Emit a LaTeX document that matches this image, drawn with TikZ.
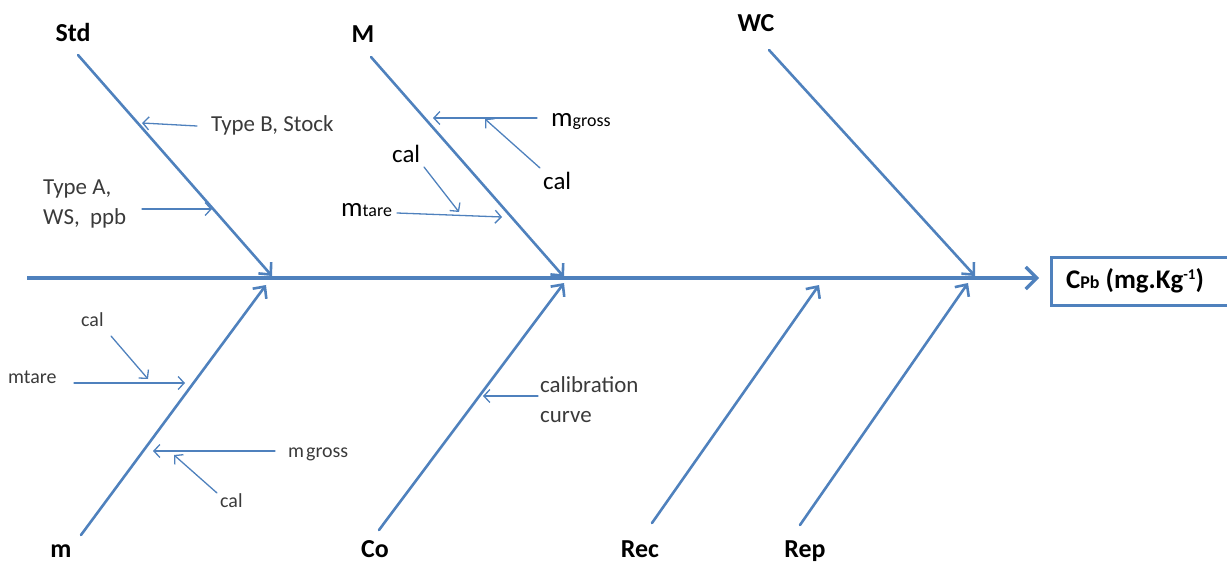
\documentclass[tikz,border=0pt]{standalone}
\usepackage{fontspec}
\setmainfont{Carlito}
\usetikzlibrary{arrows.meta}
\definecolor{fb}{HTML}{4F81BD}
\definecolor{tg}{HTML}{3A3A3A}
\newcommand{\bigf}{\fontsize{26}{30}\selectfont}
\newcommand{\grf}{\fontsize{20}{24}\selectfont}
\newcommand{\grbf}{\fontsize{23}{27}\selectfont}
\newcommand{\calf}{\fontsize{25}{30}\selectfont}
\newcommand{\subf}{\fontsize{18}{20}\selectfont}
\tikzset{
  branch/.style={draw=fb, line width=2.6bp, line cap=round, -{Straight Barb[length=9bp,width=17bp]}},
  spine/.style={draw=fb, line width=3.2bp, -{Straight Barb[length=11bp,width=22bp]}},
  subarr/.style={draw=fb, line width=1.3bp, line cap=round, -{Straight Barb[length=6bp,width=13bp]}},
  blab/.style={inner sep=0pt, anchor=base, font=\bigf\bfseries, text=black},
  glab/.style={inner sep=0pt, anchor=base west, font=\grf, text=tg},
  gblab/.style={inner sep=0pt, anchor=base west, font=\grbf, text=tg},
  klab/.style={inner sep=0pt, anchor=base west, font=\calf, text=black},
  resbox/.style={draw=fb, line width=3.2bp, minimum height=48bp, text width=190bp, inner xsep=15bp, anchor=north west}
}
\begin{document}
\begin{tikzpicture}[x=1bp,y=-1bp]
\useasboundingbox (0,0) rectangle (1227,563);
\clip (0,0) rectangle (1227,563);
% branch end points
\coordinate (s0) at (27,278);
\coordinate (s1) at (1039,278);
\coordinate (std0) at (78,55);   \coordinate (std1) at (272,276);
\coordinate (M0) at (371,57);    \coordinate (M1) at (564,277);
\coordinate (wc0) at (769,50);   \coordinate (wc1) at (975,276);
\coordinate (m0) at (81,535);    \coordinate (m1) at (266,285);
\coordinate (co0) at (379,530);  \coordinate (co1) at (564,283);
\coordinate (rec0) at (652,523); \coordinate (rec1) at (819,285);
\coordinate (rep0) at (800,525); \coordinate (rep1) at (968,283);
% result box
\node[resbox] (res) at (1050,256) {};
\node[inner sep=0pt, anchor=base west, font=\fontsize{27}{30}\selectfont\bfseries] (restext) at (1066,289)
  {C{\fontsize{18}{20}\selectfont Pb} (mg.Kg\raisebox{9bp}{\fontsize{15}{18}\selectfont -1})};
% spine and branches
\draw[spine] (s0) -- (s1);
\draw[branch] (std0) -- (std1);
\draw[branch] (M0) -- (M1);
\draw[branch] (wc0) -- (wc1);
\draw[branch] (m0) -- (m1);
\draw[branch] (co0) -- (co1);
\draw[branch] (rec0) -- (rec1);
\draw[branch] (rep0) -- (rep1);
% main labels
\node[blab] (lStd) at (73,42) {Std};
\node[blab] (lM) at (363,43) {M};
\node[blab] (lWC) at (756,32) {WC};
\node[blab] (lm) at (61,557) {m};
\node[blab] (lCo) at (375,557) {Co};
\node[blab] (lRec) at (640,557) {Rec};
\node[blab] (lRep) at (805,557) {Rep};
% Std sub-causes
\node[gblab] (tB) at (211,132) {Type B, Stock};
\coordinate (tB0) at (197,126); \coordinate (tB1) at (142,123);
\draw[subarr] (tB0) -- (tB1);
\node[gblab] (tA) at (43,195) {Type A,};
\node[gblab] (tA2) at (43,225) {WS,\ \ ppb};
\coordinate (tA0) at (142,209); \coordinate (tA1) at (212,209);
\draw[subarr] (tA0) -- (tA1);
% M sub-causes
\node[inner sep=0pt, anchor=base west, text=black] (Mg) at (551,127) {{\fontsize{27}{30}\selectfont m}{\subf gross}};
\coordinate (Mg0) at (537,118); \coordinate (Mg1) at (433,118);
\draw[subarr] (Mg0) -- (Mg1);
\node[klab] (Mc1) at (543,190) {cal};
\coordinate (Mc10) at (540,168); \coordinate (Mc11) at (485,119);
\draw[subarr] (Mc10) -- (Mc11);
\node[klab] (Mc2) at (392,163) {cal};
\coordinate (Mc20) at (424,167); \coordinate (Mc21) at (459,212);
\draw[subarr] (Mc20) -- (Mc21);
\node[inner sep=0pt, anchor=base west, text=black] (Mt) at (341,217) {{\fontsize{27}{30}\selectfont m}{\subf tare}};
\coordinate (Mt0) at (397,213); \coordinate (Mt1) at (502,217);
\draw[subarr] (Mt0) -- (Mt1);
% m sub-causes
\node[glab] (mc1) at (81,327) {cal};
\coordinate (mc10) at (111,336); \coordinate (mc11) at (148,379);
\draw[subarr] (mc10) -- (mc11);
\node[glab] (mt) at (8,383) {mtare};
\coordinate (mt0) at (74,383); \coordinate (mt1) at (185,383);
\draw[subarr] (mt0) -- (mt1);
\node[glab] (mg) at (288,457) {m\kern2bp gross};
\coordinate (mg0) at (275,451); \coordinate (mg1) at (153,451);
\draw[subarr] (mg0) -- (mg1);
\node[glab] (mc2) at (220,507) {cal};
\coordinate (mc20) at (217,493); \coordinate (mc21) at (174,455);
\draw[subarr] (mc20) -- (mc21);
% Co sub-cause
\node[gblab] (cc1) at (540,392) {calibration};
\node[gblab] (cc2) at (540,422) {curve};
\coordinate (cc0) at (538,396); \coordinate (cc1a) at (483,396);
\draw[subarr] (cc0) -- (cc1a);
\end{tikzpicture}
\end{document}
